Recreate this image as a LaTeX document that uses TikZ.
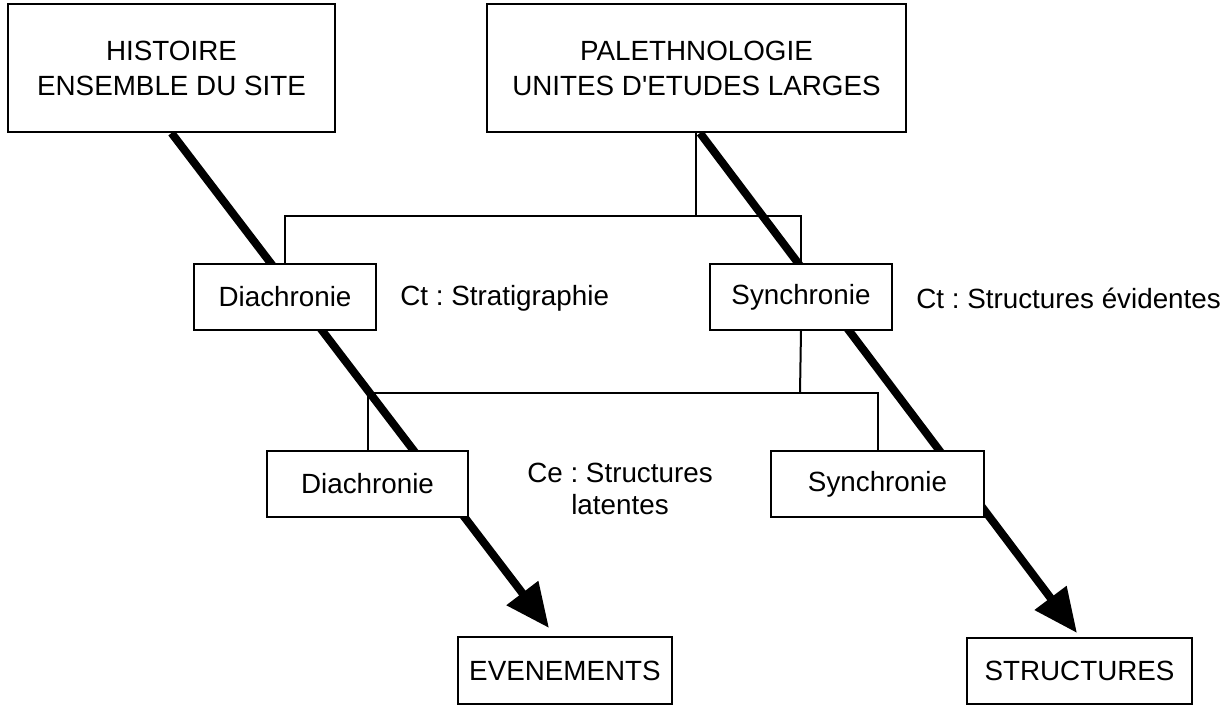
\documentclass[tikz,border=0pt]{standalone}
\usepackage{fontspec}
\setmainfont{Liberation Sans}
\usetikzlibrary{arrows.meta,backgrounds}
\frenchspacing
\begin{document}
\begin{tikzpicture}[x=0.5pt,y=-0.5pt,
  box/.style={draw,line width=1pt,fill=white,inner sep=0pt,align=center,
    font=\fontsize{13.9}{17.5}\selectfont},
  bigbox/.style={box,minimum height=64pt},
  smallbox/.style={box,minimum height=33pt},
  lbl/.style={inner sep=0pt,align=center,font=\fontsize{13.9}{16}\selectfont},
  bigarrow/.style={line width=4pt,-{Triangle[length=22pt,width=19pt]}},
  thinline/.style={line width=1pt}
]
\useasboundingbox (0,0) rectangle (1222,705);
% boxes
\node[bigbox,minimum width=163.5pt] (H) at (171.5,68) {HISTOIRE\\ENSEMBLE DU SITE};
\node[bigbox,minimum width=209.5pt] (P) at (696.5,68) {PALETHNOLOGIE\\UNITES D\textquotesingle ETUDES LARGES};
\node[smallbox,minimum width=91pt] (d1) at (285,297) {Diachronie};
\node[smallbox,minimum width=91pt] (s1) at (801,297) {Synchronie};
\node[smallbox,minimum width=100.5pt] (d2) at (367.5,484) {Diachronie};
\node[smallbox,minimum width=106.5pt] (s2) at (877.5,484) {Synchronie};
\node[smallbox,minimum width=107pt,minimum height=33.5pt] (ev) at (565,670.5) {EVENEMENTS};
\node[smallbox,minimum width=112.5pt] (st) at (1079.5,671) {STRUCTURES};
% labels
\node[lbl,anchor=west] (ct1) at (400,298) {Ct : Stratigraphie};
\node[lbl,anchor=west] (ct2) at (916,298) {Ct : Structures évidentes};
\node[lbl] (ce) at (620,489) {Ce : Structures\\latentes};
% free ends
\coordinate (evtip) at (549,628);
\coordinate (sttip) at (1077,633);
\coordinate (ub) at (696,216);
\coordinate (lb) at (800,393);
\begin{pgfonlayer}{background}
\draw[bigarrow] (H.south) -- (evtip);
\draw[bigarrow] ([xshift=1.75pt]P.south) -- (sttip);
\end{pgfonlayer}
% brackets
\draw[thinline] ([xshift=-0.25pt]P.south) -- (ub);
\draw[thinline] (d1.north) -- (d1.north |- ub) -| (s1.north);
\draw[thinline] (s1.south) -- (lb);
\draw[thinline] (d2.north) -- (d2.north |- lb) -| (s2.north);
\end{tikzpicture}
\end{document}
